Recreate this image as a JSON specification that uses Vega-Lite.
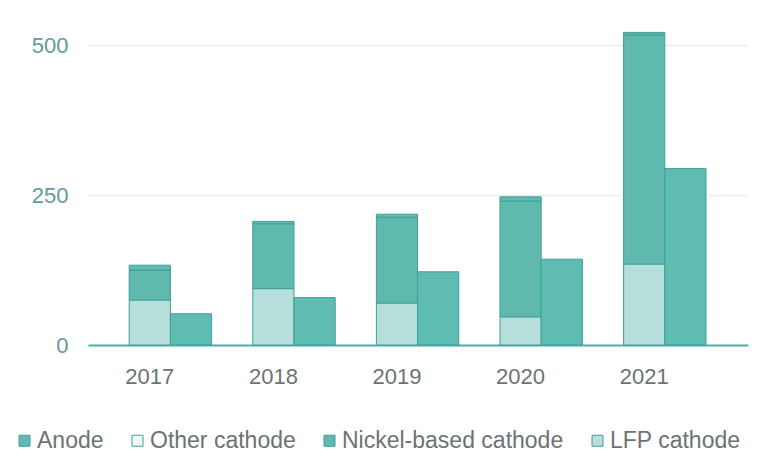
{
  "$schema": "https://vega.github.io/schema/vega-lite/v6.json",
  "width": 660,
  "height": 330,
  "autosize": {"type": "none"},
  "padding": {"left": 88, "top": 15, "right": 9, "bottom": 110},
  "background": "white",
  "config": {
    "font": "Liberation Sans",
    "view": {"stroke": null}
  },
  "data": {
    "values": [
      {"year": "2017", "group": "Cathode", "type": "LFP cathode", "value": 75},
      {"year": "2017", "group": "Cathode", "type": "Nickel-based cathode", "value": 50},
      {"year": "2017", "group": "Cathode", "type": "Other cathode", "value": 8},
      {"year": "2017", "group": "Anode", "type": "Anode", "value": 52},
      {"year": "2018", "group": "Cathode", "type": "LFP cathode", "value": 94},
      {"year": "2018", "group": "Cathode", "type": "Nickel-based cathode", "value": 108},
      {"year": "2018", "group": "Cathode", "type": "Other cathode", "value": 4},
      {"year": "2018", "group": "Anode", "type": "Anode", "value": 79},
      {"year": "2019", "group": "Cathode", "type": "LFP cathode", "value": 70},
      {"year": "2019", "group": "Cathode", "type": "Nickel-based cathode", "value": 143},
      {"year": "2019", "group": "Cathode", "type": "Other cathode", "value": 5},
      {"year": "2019", "group": "Anode", "type": "Anode", "value": 122},
      {"year": "2020", "group": "Cathode", "type": "LFP cathode", "value": 47},
      {"year": "2020", "group": "Cathode", "type": "Nickel-based cathode", "value": 193},
      {"year": "2020", "group": "Cathode", "type": "Other cathode", "value": 7},
      {"year": "2020", "group": "Anode", "type": "Anode", "value": 143},
      {"year": "2021", "group": "Cathode", "type": "LFP cathode", "value": 135},
      {"year": "2021", "group": "Cathode", "type": "Nickel-based cathode", "value": 382},
      {"year": "2021", "group": "Cathode", "type": "Other cathode", "value": 4},
      {"year": "2021", "group": "Anode", "type": "Anode", "value": 294}
    ]
  },
  "transform": [
    {"calculate": "indexof(['Anode','LFP cathode','Nickel-based cathode','Other cathode'], datum.type)", "as": "stackOrder"}
  ],
  "mark": {"type": "bar", "stroke": "#3f9e94", "strokeWidth": 1},
  "encoding": {
    "x": {
      "field": "year",
      "type": "nominal",
      "scale": {"paddingInner": 0, "paddingOuter": 0.17, "align": 0},
      "axis": {
        "title": null,
        "labelAngle": 0,
        "ticks": false,
        "labelPadding": 21,
        "labelFontSize": 22,
        "labelColor": "#6b7373",
        "domainColor": "#4fb1a7",
        "domainWidth": 2,
        "grid": false
      }
    },
    "xOffset": {
      "field": "group",
      "type": "nominal",
      "scale": {"domain": ["_", "Cathode", "Anode"], "paddingInner": 0, "paddingOuter": 0}
    },
    "y": {
      "field": "value",
      "type": "quantitative",
      "stack": "zero",
      "scale": {"domain": [0, 550], "nice": false},
      "axis": {
        "title": null,
        "values": [0, 250, 500],
        "domain": false,
        "ticks": false,
        "labelPadding": 20,
        "labelFontSize": 22,
        "labelColor": "#5f9c99",
        "gridColor": "#e9efef",
        "gridWidth": 1.5
      }
    },
    "color": {
      "condition": {"test": "datum.type === 'Other cathode'", "value": "#62bbb1"},
      "field": "type",
      "type": "nominal",
      "scale": {
        "domain": ["Anode", "Other cathode", "Nickel-based cathode", "LFP cathode"],
        "range": ["#5ebcb2", "#eef7f6", "#5fb9af", "#b6dfdb"]
      },
      "legend": {
        "title": null,
        "orient": "none",
        "direction": "horizontal",
        "legendX": -75,
        "legendY": 414,
        "symbolType": "square",
        "symbolSize": 121,
        "symbolStrokeColor": "#3f9e94",
        "symbolStrokeWidth": 1,
        "labelFontSize": 23,
        "labelLimit": 0,
        "labelColor": "#6b7373",
        "labelOffset": 1,
        "columnPadding": 22
      }
    },
    "order": {"field": "stackOrder", "type": "quantitative"}
  }
}
